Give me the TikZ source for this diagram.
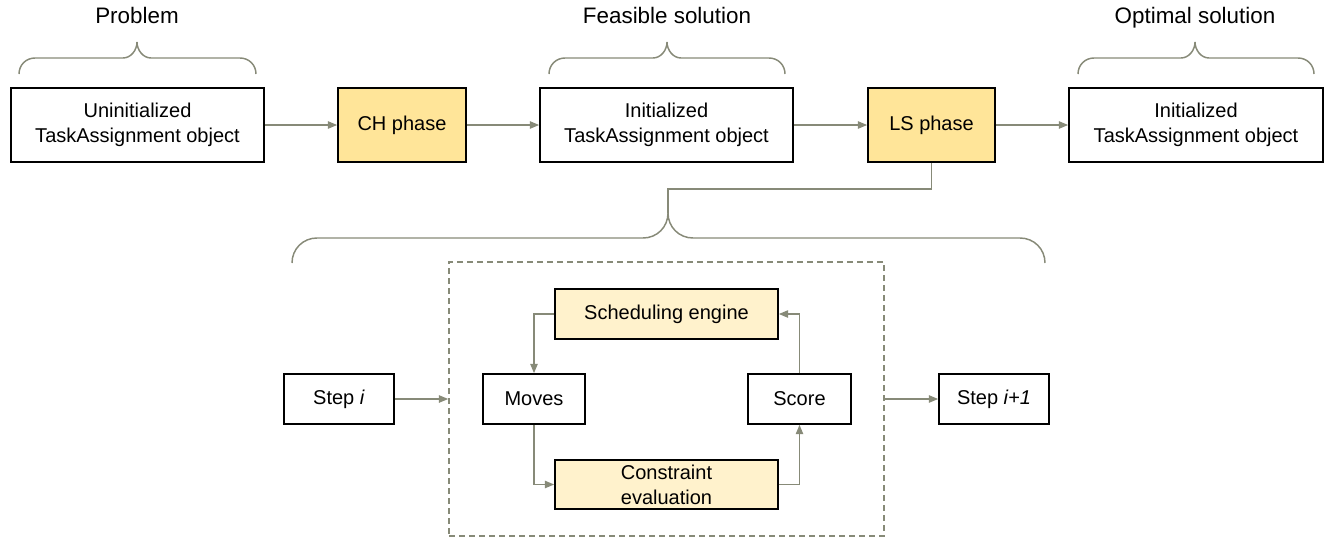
\documentclass[tikz,border=0pt]{standalone}
\usepackage{fontspec}
\setmainfont{Liberation Sans}
\usetikzlibrary{arrows.meta}
\definecolor{strongy}{HTML}{FFE599}
\definecolor{lighty}{HTML}{FFF2CC}
\definecolor{conn}{HTML}{878A78}
\tikzset{
  box/.style={draw=black, line width=1.2pt, inner sep=0pt, align=center,
    font=\fontsize{15}{18.75}\selectfont, fill=white},
  phase/.style={box, fill=strongy},
  inner/.style={box, fill=lighty},
  title/.style={font=\fontsize{16.8}{20}\selectfont, inner sep=0pt, anchor=base},
  arr/.style={draw=conn, line width=1.1pt, -{Triangle[length=7pt,width=5.5pt]}},
  ln/.style={draw=conn, line width=1.1pt},
  brace/.style={draw=conn, line width=1.1pt},
  loopbox/.style={draw=conn, line width=1.1pt, dash pattern=on 4.5pt off 3pt, inner sep=0pt}
}
\begin{document}
\begin{tikzpicture}[x=0.75pt,y=-0.75pt]
\useasboundingbox (0,0) rectangle (1330,540);
% top row
\node[box, minimum width=253*0.75pt, minimum height=74*0.75pt] (un) at (137.5,125) {Uninitialized\\TaskAssignment object};
\node[phase, minimum width=128*0.75pt, minimum height=74*0.75pt] (ch) at (402,125) {CH phase};
\node[box, minimum width=253*0.75pt, minimum height=74*0.75pt] (init) at (666.5,125) {Initialized\\TaskAssignment object};
\node[phase, minimum width=127*0.75pt, minimum height=74*0.75pt] (ls) at (931.5,125) {LS phase};
\node[box, minimum width=254*0.75pt, minimum height=74*0.75pt] (opt) at (1196,125) {Initialized\\TaskAssignment object};
\draw[arr] (un) -- (ch);
\draw[arr] (ch) -- (init);
\draw[arr] (init) -- (ls);
\draw[arr] (ls) -- (opt);
% titles
\node[title] (tp) at (137,23) {Problem};
\node[title] (tf) at (667,23) {Feasible solution};
\node[title] (to) at (1195,23) {Optimal solution};
% small braces
\foreach \a/\t/\b in {19/137/256, 549/667/785, 1078/1195/1314}{
  \draw[brace] (\a,74) .. controls (\a,65) and (\a+7,58) .. (\a+16,58) -- (\t-14,58)
    .. controls (\t-6,58) and (\t,50) .. (\t,42)
    .. controls (\t,50) and (\t+6,58) .. (\t+14,58) -- (\b-16,58)
    .. controls (\b-7,58) and (\b,65) .. (\b,74);
}
% big brace
\coordinate (bigtip) at (668,213);
\draw[brace] (292,263) .. controls (292,249) and (303,238) .. (317,238) -- (643,238)
  .. controls (657,238) and (668,227) .. (bigtip)
  .. controls (668,227) and (679,238) .. (693,238) -- (1020,238)
  .. controls (1034,238) and (1045,249) .. (1045,263);
\draw[ln] (ls.south) -- ++(0,26) -| (bigtip);
% loop
\node[loopbox, minimum width=435*0.75pt, minimum height=274*0.75pt] (loop) at (666.5,399) {};
\node[box, minimum width=110*0.75pt, minimum height=50*0.75pt] (si) at (339,399) {Step \textit{i}};
\node[box, minimum width=110*0.75pt, minimum height=50*0.75pt] (sn) at (994,399) {Step \textit{i+1}};
\node[box, minimum width=102*0.75pt, minimum height=50*0.75pt] (mv) at (534,399) {Moves};
\node[box, minimum width=103*0.75pt, minimum height=50*0.75pt] (sc) at (799.5,399) {Score};
\node[inner, minimum width=223*0.75pt, minimum height=50*0.75pt] (se) at (666.5,314) {Scheduling engine};
\node[inner, minimum width=223*0.75pt, minimum height=49*0.75pt] (ce) at (666.5,484.5) {Constraint\\evaluation};
\draw[arr] (si) -- (loop.west);
\draw[arr] (loop.east) -- (sn);
\draw[arr] (se.west) -| (mv.north);
\draw[arr] (mv.south) |- (ce.west);
\draw[arr] (ce.east) -| (sc.south);
\draw[arr] (sc.north) |- (se.east);
\end{tikzpicture}
\end{document}
